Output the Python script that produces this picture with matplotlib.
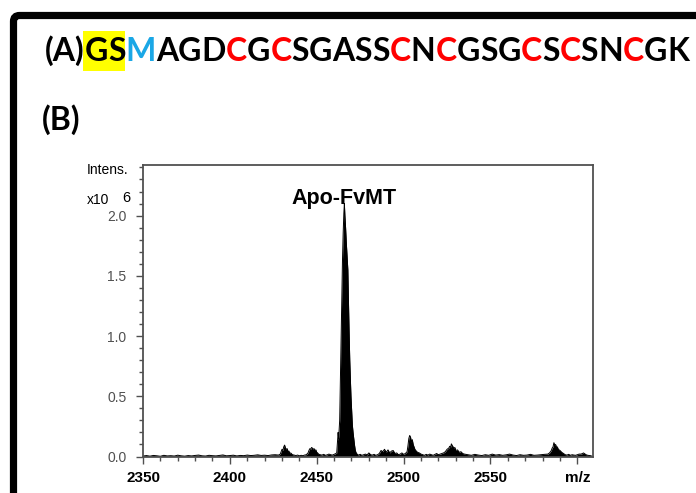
import matplotlib
matplotlib.use("Agg")
import matplotlib.pyplot as plt
import matplotlib.patches as mpatches
import matplotlib.transforms as mtransforms
from matplotlib.ticker import MultipleLocator, FixedLocator, FixedFormatter

# Sequence line: letters and their colours
sequence = "GSMAGDCGCSGASSCNCGSGCSCSNCGK"
highlight = "GS"          # yellow background
tag_colour = {"M": "#1aa7e6", "C": "#ff0000"}

# Spectrum (m/z, intensity x10^6)
mz = [
    2350, 2352, 2354, 2356, 2358, 2360, 2362, 2364, 2366, 2368,
    2370, 2372, 2374, 2376, 2378, 2380, 2382, 2384, 2386, 2388,
    2390, 2392, 2394, 2396, 2398, 2400, 2402, 2404, 2406, 2408,
    2410, 2412, 2414, 2416, 2418, 2420, 2422, 2424, 2426, 2428,
    2429, 2429.5, 2430, 2430.5, 2431, 2431.5, 2432, 2432.5, 2433, 2433.5,
    2434, 2434.5, 2435, 2436, 2437,
    2438, 2439, 2440, 2441, 2442, 2443, 2444,
    2445, 2445.5, 2446, 2446.5, 2447, 2447.5, 2448, 2448.5, 2449, 2449.5,
    2450, 2450.5, 2451,
    2452, 2453, 2454, 2455, 2456, 2457, 2458, 2459, 2460, 2461,
    2461.5, 2462.0, 2462.3, 2462.6, 2462.9, 2463.2, 2463.5, 2463.8, 2464.1, 2464.4,
    2464.8, 2465.2, 2465.6, 2465.9, 2466.2, 2466.6, 2467.0, 2467.5, 2467.9, 2468.3,
    2468.6, 2469.0, 2469.4, 2469.7, 2470.1, 2470.5, 2470.9, 2471.3, 2471.7, 2472.2,
    2472.7, 2473.5,
    2474, 2475, 2476, 2477, 2478, 2479, 2480, 2481, 2482, 2483, 2484, 2485, 2486,
    2487, 2488, 2489, 2490, 2491, 2492, 2493, 2494, 2495, 2496,
    2497, 2498, 2499, 2500, 2501, 2502,
    2502.5, 2503, 2503.5, 2504, 2504.5, 2505, 2505.5, 2506, 2506.5, 2507,
    2508, 2509, 2510,
    2511, 2512, 2513, 2514, 2515, 2516, 2517, 2518, 2519, 2520, 2521, 2522, 2523,
    2524, 2525, 2526, 2526.5, 2527, 2527.5, 2528, 2528.5, 2529, 2529.5,
    2530, 2531, 2532, 2533, 2534, 2535,
    2537, 2539, 2541, 2543, 2545, 2547, 2549, 2551, 2553, 2555, 2557, 2559,
    2561, 2563, 2565, 2567, 2569, 2571, 2573, 2575, 2577, 2579, 2581, 2583,
    2584, 2585, 2585.5, 2586, 2586.5, 2587, 2587.5, 2588, 2588.5, 2589,
    2590, 2591, 2592,
    2593, 2594, 2595, 2596, 2597, 2598, 2599, 2600, 2601,
    2602, 2603, 2603.5, 2604, 2605, 2606, 2607, 2608,
]
intensity = [
    0.004, 0.008, 0.003, 0.009, 0.006, 0.002, 0.010, 0.005, 0.007, 0.004,
    0.011, 0.006, 0.003, 0.008, 0.005, 0.009, 0.012, 0.006, 0.004, 0.010,
    0.007, 0.005, 0.009, 0.013, 0.006, 0.008, 0.011, 0.005, 0.009, 0.007,
    0.012, 0.008, 0.010, 0.014, 0.009, 0.011, 0.008, 0.013, 0.015, 0.012,
    0.02, 0.04, 0.06, 0.05, 0.08, 0.095, 0.07, 0.06, 0.065, 0.04,
    0.045, 0.025, 0.03, 0.015, 0.012,
    0.008, 0.012, 0.006, 0.010, 0.007, 0.012, 0.015,
    0.03, 0.05, 0.065, 0.06, 0.075, 0.07, 0.06, 0.065, 0.05, 0.055,
    0.035, 0.03, 0.02,
    0.015, 0.012, 0.018, 0.010, 0.014, 0.02, 0.015, 0.012, 0.018, 0.025,
    0.03, 0.14, 0.20, 0.15, 0.22, 0.30, 0.55, 0.85, 1.10, 1.35,
    1.62, 1.85, 2.02, 2.10, 2.00, 1.90, 1.78, 1.65, 1.55, 1.25,
    1.05, 0.80, 0.62, 0.50, 0.38, 0.26, 0.20, 0.15, 0.10, 0.05,
    0.03, 0.015,
    0.012, 0.018, 0.010, 0.015, 0.02, 0.013, 0.03, 0.015, 0.012, 0.018, 0.01, 0.015, 0.025,
    0.05, 0.04, 0.06, 0.035, 0.055, 0.03, 0.045, 0.05, 0.025, 0.03,
    0.015, 0.02, 0.03, 0.018, 0.025, 0.04,
    0.09, 0.15, 0.175, 0.16, 0.12, 0.14, 0.10, 0.08, 0.06, 0.05,
    0.035, 0.03, 0.02,
    0.015, 0.01, 0.018, 0.012, 0.02, 0.015, 0.01, 0.018, 0.025, 0.015, 0.02, 0.025, 0.03,
    0.04, 0.06, 0.07, 0.085, 0.075, 0.105, 0.09, 0.08, 0.07, 0.075,
    0.05, 0.055, 0.035, 0.04, 0.025, 0.02,
    0.015, 0.01, 0.018, 0.012, 0.008, 0.015, 0.01, 0.02, 0.012, 0.016, 0.01, 0.014,
    0.02, 0.012, 0.008, 0.015, 0.01, 0.012, 0.018, 0.01, 0.012, 0.015, 0.018, 0.02,
    0.03, 0.05, 0.07, 0.08, 0.115, 0.095, 0.10, 0.075, 0.08, 0.06,
    0.05, 0.035, 0.025,
    0.015, 0.012, 0.018, 0.01, 0.015, 0.012, 0.01, 0.015, 0.02,
    0.02, 0.025, 0.03, 0.025, 0.015, 0.01, 0.008, 0.006,
]
assert len(mz) == len(intensity)

x_ticks = [2350, 2400, 2450, 2500, 2550, 2600]
x_labels = ["2350", "2400", "2450", "2500", "2550", "m/z"]
y_ticks = [0.0, 0.5, 1.0, 1.5, 2.0]

W, H = 696, 493
fig = plt.figure(figsize=(W / 100, H / 100), dpi=100)

# thick black frame running off the right and bottom edges
frame = mpatches.FancyBboxPatch((13.5, -60), 800, H - 15.5 + 60,
                                boxstyle="round,pad=0,rounding_size=6",
                                transform=mtransforms.IdentityTransform(),
                                lw=5.2, ec="black", fc="none")
fig.add_artist(frame)

# ---- (A) sequence line ----
fig.canvas.draw()
r = fig.canvas.get_renderer()
full = "(A)" + sequence


def text_width(s, size):
    t = fig.text(0, 0, s, fontsize=size, fontweight="bold",
                 family=["Lato", "DejaVu Sans"])
    w = t.get_window_extent(r).width
    t.remove()
    return w


# fit the line between x=45 and x=690 like the reference
fs = 24 * 645 / text_width(full, 24)
title_font = dict(fontsize=fs, fontweight="bold", family=["Lato", "DejaVu Sans"])

x0 = 45
y_base = 1 - 61 / H
fig.text(x0 / W, y_base, "(A)", color="black", va="baseline", **title_font)
char_x = []
for i, ch in enumerate(sequence):
    pos = 3 + i
    xs = x0 + text_width(full[:pos + 1], fs) - text_width(ch, fs)
    char_x.append(xs)
    col = tag_colour.get(ch, "black")
    fig.text(xs / W, y_base, ch, color=col, va="baseline", **title_font)

# yellow box behind "GS"
hl_left = char_x[0] - 2
hl_right = char_x[len(highlight)] - 1
hl = mpatches.Rectangle((hl_left / W, 1 - 71 / H), (hl_right - hl_left) / W, 40 / H,
                        transform=fig.transFigure, fc="#ffff00", ec="none",
                        zorder=0)
fig.add_artist(hl)

fig.text(42 / W, 1 - 130 / H, "(B)", color="black", va="baseline", **title_font)

# ---- (B) mass spectrum ----
ax = fig.add_axes([143 / W, 1 - 457 / H, 450 / W, 292 / H])
ax.fill_between(mz, 0, intensity, color="black", lw=0)
ax.plot(mz, intensity, color="black", lw=0.7)
ax.set_xlim(2350, 2609)
ax.set_ylim(-0.004, 2.42)

grey = "#505050"
for s in ax.spines.values():
    s.set_color(grey)
    s.set_linewidth(1.3)

ax.xaxis.set_major_locator(FixedLocator(x_ticks))
ax.xaxis.set_major_formatter(FixedFormatter(x_labels))
ax.xaxis.set_minor_locator(MultipleLocator(10))
ax.yaxis.set_major_locator(FixedLocator(y_ticks))
ax.yaxis.set_major_formatter(FixedFormatter([f"{v:.1f}" for v in y_ticks]))
ax.yaxis.set_minor_locator(MultipleLocator(0.1))

ax.tick_params(axis="both", which="both", direction="out", color=grey, width=1)
ax.tick_params(axis="both", which="major", length=5)
ax.tick_params(axis="both", which="minor", length=3)
ax.tick_params(axis="y", which="major", labelsize=10, labelcolor=grey, pad=7)
ax.tick_params(axis="x", which="major", labelsize=11, labelcolor="black", pad=5)
for lab in ax.get_xticklabels():
    lab.set_fontweight("bold")
    lab.set_family(["Liberation Sans", "DejaVu Sans"])
for lab in ax.get_yticklabels():
    lab.set_family(["Liberation Sans", "DejaVu Sans"])

small = dict(family=["Liberation Sans", "DejaVu Sans"], color="black")
fig.text(128 / W, 1 - 170 / H, "Intens.", ha="right", va="center", fontsize=10, **small)
fig.text(87 / W, 1 - 200 / H, "x10", ha="left", va="center", fontsize=10, **small)
fig.text(126 / W, 1 - 198 / H, "6", ha="center", va="center", fontsize=10.5, **small)

ax.text(2465.5, 2.14, "Apo-FvMT", ha="center", va="center", fontsize=15.5,
        fontweight="bold", family=["Liberation Sans", "DejaVu Sans"])

fig.savefig("out.png", dpi=100)
